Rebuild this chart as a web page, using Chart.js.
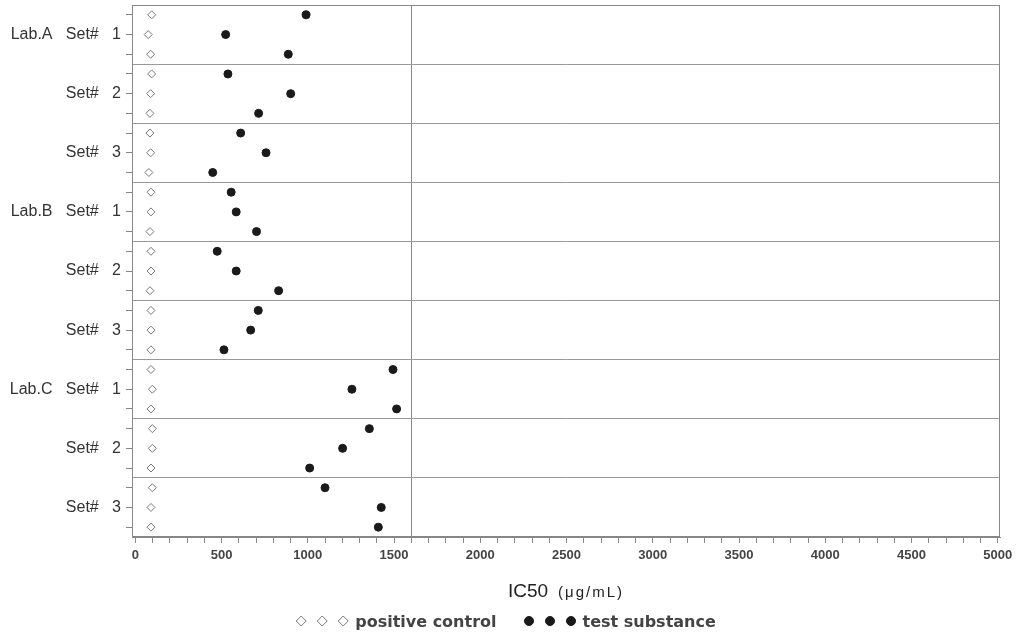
<!DOCTYPE html>
<html>
<head>
<meta charset="utf-8">
<script src="https://cdn.jsdelivr.net/npm/chart.js@4/dist/chart.umd.min.js"></script>
<style>
    html, body { margin: 0; padding: 0; background: #fff; }
    #wrap { width: 1016px; height: 637px; }
</style>
</head>
<body>
<div id="wrap"><canvas id="ic50Chart" width="1016" height="637"></canvas></div>
<script>
// IC50 per lab / set / replicate (ug/mL)
const setLabels = [
    "Lab.A   Set#   1", "Set#   2", "Set#   3",
    "Lab.B   Set#   1", "Set#   2", "Set#   3",
    "Lab.C   Set#   1", "Set#   2", "Set#   3",
];
const replicates = 3;

const positiveControl = [
    95, 75, 89, 95, 89, 85, 85, 89, 79,
    91, 91, 85, 91, 91, 85, 91, 91, 91,
    91, 99, 91, 99, 99, 91, 99, 91, 91,
];
const testSubstance = [
    990, 524, 887, 537, 901, 715, 611, 758, 449,
    556, 585, 703, 475, 585, 831, 713, 669, 514,
    1494, 1256, 1515, 1357, 1202, 1011, 1100, 1426, 1409,
];

const xMajorStep = 500;
const xMinorStep = 100;
const xTickMax = 5000;
const refLine = 1600;

const rowCount = setLabels.length * replicates;

function toPoints(values) {
    return values.map((v, i) => ({ x: v, y: i }));
}

// Frame, axis title and the legend row under the plot
const extrasPlugin = {
    id: "extras",
    beforeDatasetsDraw(chart) {
        const a = chart.chartArea;
        const ctx = chart.ctx;
        ctx.save();
        ctx.strokeStyle = "#888";
        ctx.lineWidth = 1;
        ctx.strokeRect(Math.round(a.left) + 0.5, Math.round(a.top) + 0.5,
            Math.round(a.right - a.left) - 1, Math.round(a.bottom - a.top) - 1);
        ctx.restore();
    },
    afterDraw(chart) {
        const a = chart.chartArea;
        const ctx = chart.ctx;
        ctx.save();
        ctx.textBaseline = "alphabetic";
        ctx.textAlign = "left";

        // axis title
        const t1 = "IC50";
        const t2 = "(\u03bcg/mL)";
        ctx.font = "19px 'Liberation Sans'";
        const w1 = ctx.measureText(t1).width;
        ctx.font = "15px 'Liberation Sans'";
        ctx.letterSpacing = "2px";
        const w2 = ctx.measureText(t2).width;
        const gap = 10;
        let x = (a.left + a.right) / 2 - (w1 + gap + w2) / 2;
        ctx.fillStyle = "#222";
        ctx.letterSpacing = "0px";
        ctx.font = "19px 'Liberation Sans'";
        ctx.fillText(t1, x, 597);
        ctx.letterSpacing = "2px";
        ctx.font = "15px 'Liberation Sans'";
        ctx.fillText(t2, x + w1 + gap, 597);
        ctx.letterSpacing = "0px";

        // legend
        const items = [
            { text: "positive control", style: "rectRot", r: 5, fill: "#fff", stroke: "#777" },
            { text: "test substance", style: "circle", r: 4.5, fill: "#1a1a1a", stroke: "#1a1a1a" },
        ];
        ctx.font = "bold 16px 'DejaVu Sans'";
        const markStep = 21;
        const textGap = 7;
        const itemGap = 28;
        const widths = items.map(it => markStep * 2 + it.r * 2 + textGap + ctx.measureText(it.text).width);
        const total = widths[0] + widths[1] + itemGap;
        let lx = 506 - total / 2;
        const ly = 621;
        items.forEach((it, k) => {
            for (let m = 0; m < 3; m++) {
                ctx.fillStyle = it.fill;
                ctx.strokeStyle = it.stroke;
                ctx.lineWidth = 1;
                Chart.helpers.drawPoint(ctx, {
                    pointStyle: it.style,
                    radius: it.r,
                    borderWidth: 1,
                }, lx + it.r + m * markStep, ly);
            }
            ctx.fillStyle = "#444";
            ctx.fillText(it.text, lx + markStep * 2 + it.r * 2 + textGap, ly + 6);
            lx += widths[k] + itemGap;
        });
        ctx.restore();
    },
};

function initChart() {
    const el = document.getElementById("ic50Chart");
    if (!el) return;

    new Chart(el.getContext("2d"), {
        type: "scatter",
        data: {
            datasets: [
                {
                    label: "positive control",
                    data: toPoints(positiveControl),
                    pointStyle: "rectRot",
                    pointRadius: 4,
                    pointBorderWidth: 1,
                    pointBorderColor: "#777",
                    pointBackgroundColor: "#fff",
                },
                {
                    label: "test substance",
                    data: toPoints(testSubstance),
                    pointStyle: "circle",
                    pointRadius: 4,
                    pointBorderWidth: 1,
                    pointBorderColor: "#1a1a1a",
                    pointBackgroundColor: "#1a1a1a",
                },
            ],
        },
        options: {
            responsive: false,
            animation: false,
            events: [],
            layout: {
                padding: { top: 4, right: 16, left: 0, bottom: 0 },
            },
            plugins: {
                legend: { display: false },
                tooltip: { enabled: false },
            },
            scales: {
                x: {
                    type: "linear",
                    min: -19,
                    max: 5013,
                    afterBuildTicks: (scale) => {
                        const ticks = [];
                        for (let v = 0; v <= xTickMax; v += xMinorStep) {
                            ticks.push({ value: v });
                        }
                        scale.ticks = ticks;
                    },
                    afterFit: (scale) => {
                        scale.height = 100;
                        scale.paddingLeft = 0;
                        scale.paddingRight = 0;
                    },
                    ticks: {
                        autoSkip: false,
                        maxRotation: 0,
                        padding: 5,
                        color: "#444",
                        font: { family: "'Liberation Sans'", size: 13, weight: "bold" },
                        callback: (v) => (v % xMajorStep === 0 ? String(v) : ""),
                    },
                    grid: {
                        drawOnChartArea: true,
                        drawTicks: true,
                        tickLength: 6,
                        color: (ctx) => (ctx.tick && ctx.tick.value === refLine ? "#888" : "rgba(0,0,0,0)"),
                        tickColor: "#888",
                        lineWidth: 1,
                    },
                    border: { display: true, color: "#888", width: 1 },
                },
                y: {
                    type: "linear",
                    reverse: true,
                    min: -0.5,
                    max: rowCount - 0.5,
                    afterBuildTicks: (scale) => {
                        const ticks = [];
                        for (let r = 0; r < rowCount; r++) {
                            ticks.push({ value: r });
                        }
                        for (let s = 1; s < setLabels.length; s++) {
                            ticks.push({ value: s * replicates - 0.5 });
                        }
                        scale.ticks = ticks;
                    },
                    afterFit: (scale) => {
                        scale.width = 132;
                        scale.paddingTop = 0;
                        scale.paddingBottom = 0;
                    },
                    ticks: {
                        autoSkip: false,
                        padding: 5,
                        color: "#333",
                        font: { family: "'Liberation Sans'", size: 16 },
                        callback: (v) => {
                            if (!Number.isInteger(v) || v % replicates !== 1) return "";
                            return setLabels[(v - 1) / replicates];
                        },
                    },
                    grid: {
                        drawOnChartArea: true,
                        drawTicks: true,
                        tickLength: 6,
                        color: (ctx) => (ctx.tick && !Number.isInteger(ctx.tick.value) ? "#999" : "rgba(0,0,0,0)"),
                        tickColor: (ctx) => (ctx.tick && Number.isInteger(ctx.tick.value) ? "#888" : "rgba(0,0,0,0)"),
                        lineWidth: 1,
                    },
                    border: { display: true, color: "#888", width: 1 },
                },
            },
        },
        plugins: [extrasPlugin],
    });
}

if (document.readyState === "loading") {
    document.addEventListener("DOMContentLoaded", initChart);
} else {
    initChart();
}
</script>
</body>
</html>
